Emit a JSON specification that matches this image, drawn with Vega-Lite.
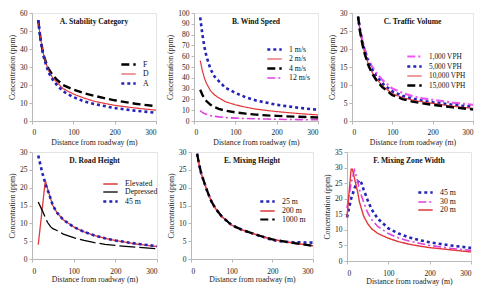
{
  "$schema": "https://vega.github.io/schema/vega-lite/v6.json",
  "padding": {"left": 8, "top": 8, "right": 2, "bottom": 0},
  "background": "white",
  "config": {
    "view": {"stroke": "#e4e4e4"},
    "font": "Liberation Serif",
    "axis": {"grid": false, "domainColor": "#b8b8b8", "tickColor": "#b8b8b8", "tickSize": 3, "labelColor": "#222", "labelFont": "Liberation Serif", "labelFontSize": 7.5, "titleFont": "Liberation Serif", "titleFontSize": 7.8, "titleFontWeight": "normal", "titleColor": "#222", "labelPadding": 2, "titlePadding": 3},
    "title": {"font": "Liberation Serif", "fontSize": 7.6, "fontWeight": "bold", "color": "#111", "offset": -17, "anchor": "middle"},
    "legend": {"title": null, "orient": "none", "symbolType": "M-2.4,0H2.4", "symbolSize": 36, "labelFont": "Liberation Serif", "labelFontSize": 7.8, "labelColor": "#111", "rowPadding": 0, "labelOffset": 10, "symbolStrokeWidth": 2}
  },
  "datasets": {
    "A": [
      {"d":15,"c":56,"s":"F"},{"d":20,"c":47,"s":"F"},{"d":25,"c":40,"s":"F"},{"d":30,"c":35,"s":"F"},{"d":40,"c":29,"s":"F"},{"d":50,"c":25.5,"s":"F"},{"d":60,"c":23,"s":"F"},{"d":75,"c":20,"s":"F"},{"d":100,"c":17.5,"s":"F"},{"d":125,"c":15.5,"s":"F"},{"d":150,"c":14,"s":"F"},{"d":175,"c":12.7,"s":"F"},{"d":200,"c":11.5,"s":"F"},{"d":250,"c":9.6,"s":"F"},{"d":300,"c":8.2,"s":"F"},
      {"d":15,"c":56,"s":"D"},{"d":20,"c":47,"s":"D"},{"d":25,"c":40,"s":"D"},{"d":30,"c":35,"s":"D"},{"d":40,"c":28,"s":"D"},{"d":50,"c":24,"s":"D"},{"d":60,"c":21.5,"s":"D"},{"d":75,"c":18,"s":"D"},{"d":100,"c":15,"s":"D"},{"d":125,"c":12.8,"s":"D"},{"d":150,"c":11,"s":"D"},{"d":175,"c":9.8,"s":"D"},{"d":200,"c":8.7,"s":"D"},{"d":250,"c":7.2,"s":"D"},{"d":300,"c":6,"s":"D"},
      {"d":15,"c":56,"s":"A"},{"d":20,"c":46,"s":"A"},{"d":25,"c":39,"s":"A"},{"d":30,"c":34,"s":"A"},{"d":40,"c":27,"s":"A"},{"d":50,"c":23,"s":"A"},{"d":60,"c":20,"s":"A"},{"d":75,"c":16.5,"s":"A"},{"d":100,"c":13.3,"s":"A"},{"d":125,"c":11,"s":"A"},{"d":150,"c":9.5,"s":"A"},{"d":175,"c":8.3,"s":"A"},{"d":200,"c":7.2,"s":"A"},{"d":250,"c":5.7,"s":"A"},{"d":300,"c":4.6,"s":"A"}
    ],
    "B": [
      {"d":15,"c":9.5,"s":"12 m/s"},{"d":20,"c":8,"s":"12 m/s"},{"d":25,"c":7,"s":"12 m/s"},{"d":30,"c":6.2,"s":"12 m/s"},{"d":40,"c":5,"s":"12 m/s"},{"d":50,"c":4.3,"s":"12 m/s"},{"d":60,"c":3.8,"s":"12 m/s"},{"d":75,"c":3.2,"s":"12 m/s"},{"d":100,"c":2.7,"s":"12 m/s"},{"d":125,"c":2.3,"s":"12 m/s"},{"d":150,"c":2,"s":"12 m/s"},{"d":175,"c":1.8,"s":"12 m/s"},{"d":200,"c":1.6,"s":"12 m/s"},{"d":250,"c":1.3,"s":"12 m/s"},{"d":300,"c":1.1,"s":"12 m/s"},
      {"d":15,"c":29,"s":"4 m/s"},{"d":20,"c":24.5,"s":"4 m/s"},{"d":25,"c":21,"s":"4 m/s"},{"d":30,"c":18.5,"s":"4 m/s"},{"d":40,"c":15,"s":"4 m/s"},{"d":50,"c":12.8,"s":"4 m/s"},{"d":60,"c":11.3,"s":"4 m/s"},{"d":75,"c":9.6,"s":"4 m/s"},{"d":100,"c":8,"s":"4 m/s"},{"d":125,"c":6.8,"s":"4 m/s"},{"d":150,"c":5.9,"s":"4 m/s"},{"d":175,"c":5.2,"s":"4 m/s"},{"d":200,"c":4.7,"s":"4 m/s"},{"d":250,"c":3.9,"s":"4 m/s"},{"d":300,"c":3.3,"s":"4 m/s"},
      {"d":15,"c":56,"s":"2 m/s"},{"d":20,"c":47,"s":"2 m/s"},{"d":25,"c":40,"s":"2 m/s"},{"d":30,"c":35,"s":"2 m/s"},{"d":40,"c":28,"s":"2 m/s"},{"d":50,"c":24,"s":"2 m/s"},{"d":60,"c":21.5,"s":"2 m/s"},{"d":75,"c":18,"s":"2 m/s"},{"d":100,"c":15,"s":"2 m/s"},{"d":125,"c":12.8,"s":"2 m/s"},{"d":150,"c":11,"s":"2 m/s"},{"d":175,"c":9.8,"s":"2 m/s"},{"d":200,"c":8.7,"s":"2 m/s"},{"d":250,"c":7,"s":"2 m/s"},{"d":300,"c":5.6,"s":"2 m/s"},
      {"d":15,"c":96,"s":"1 m/s"},{"d":20,"c":81,"s":"1 m/s"},{"d":25,"c":69,"s":"1 m/s"},{"d":30,"c":60,"s":"1 m/s"},{"d":40,"c":48,"s":"1 m/s"},{"d":50,"c":41,"s":"1 m/s"},{"d":60,"c":37,"s":"1 m/s"},{"d":75,"c":31,"s":"1 m/s"},{"d":100,"c":26,"s":"1 m/s"},{"d":125,"c":22,"s":"1 m/s"},{"d":150,"c":19,"s":"1 m/s"},{"d":175,"c":17,"s":"1 m/s"},{"d":200,"c":15,"s":"1 m/s"},{"d":250,"c":12.4,"s":"1 m/s"},{"d":300,"c":10.3,"s":"1 m/s"}
    ],
    "C": [
      {"d":15,"c":29,"s":"1,000 VPH"},{"d":20,"c":25.5,"s":"1,000 VPH"},{"d":25,"c":22.8,"s":"1,000 VPH"},{"d":30,"c":20.5,"s":"1,000 VPH"},{"d":40,"c":17.2,"s":"1,000 VPH"},{"d":50,"c":15,"s":"1,000 VPH"},{"d":60,"c":13.4,"s":"1,000 VPH"},{"d":75,"c":11.4,"s":"1,000 VPH"},{"d":100,"c":9,"s":"1,000 VPH"},{"d":125,"c":7.8,"s":"1,000 VPH"},{"d":150,"c":6.9,"s":"1,000 VPH"},{"d":175,"c":6.3,"s":"1,000 VPH"},{"d":200,"c":5.9,"s":"1,000 VPH"},{"d":250,"c":5.1,"s":"1,000 VPH"},{"d":300,"c":4.5,"s":"1,000 VPH"},
      {"d":15,"c":29,"s":"5,000 VPH"},{"d":20,"c":25.2,"s":"5,000 VPH"},{"d":25,"c":22.3,"s":"5,000 VPH"},{"d":30,"c":20,"s":"5,000 VPH"},{"d":40,"c":16.5,"s":"5,000 VPH"},{"d":50,"c":14.2,"s":"5,000 VPH"},{"d":60,"c":12.5,"s":"5,000 VPH"},{"d":75,"c":10.5,"s":"5,000 VPH"},{"d":100,"c":8.2,"s":"5,000 VPH"},{"d":125,"c":7,"s":"5,000 VPH"},{"d":150,"c":6.2,"s":"5,000 VPH"},{"d":175,"c":5.6,"s":"5,000 VPH"},{"d":200,"c":5.2,"s":"5,000 VPH"},{"d":250,"c":4.5,"s":"5,000 VPH"},{"d":300,"c":3.9,"s":"5,000 VPH"},
      {"d":15,"c":29,"s":"10,000 VPH"},{"d":20,"c":25,"s":"10,000 VPH"},{"d":25,"c":22,"s":"10,000 VPH"},{"d":30,"c":19.5,"s":"10,000 VPH"},{"d":40,"c":16,"s":"10,000 VPH"},{"d":50,"c":13.5,"s":"10,000 VPH"},{"d":60,"c":11.8,"s":"10,000 VPH"},{"d":75,"c":9.8,"s":"10,000 VPH"},{"d":100,"c":7.6,"s":"10,000 VPH"},{"d":125,"c":6.5,"s":"10,000 VPH"},{"d":150,"c":5.8,"s":"10,000 VPH"},{"d":175,"c":5.3,"s":"10,000 VPH"},{"d":200,"c":4.9,"s":"10,000 VPH"},{"d":250,"c":4.1,"s":"10,000 VPH"},{"d":300,"c":3.5,"s":"10,000 VPH"},
      {"d":15,"c":29,"s":"15,000 VPH"},{"d":20,"c":24.8,"s":"15,000 VPH"},{"d":25,"c":21.7,"s":"15,000 VPH"},{"d":30,"c":19.2,"s":"15,000 VPH"},{"d":40,"c":15.6,"s":"15,000 VPH"},{"d":50,"c":13.1,"s":"15,000 VPH"},{"d":60,"c":11.4,"s":"15,000 VPH"},{"d":75,"c":9.4,"s":"15,000 VPH"},{"d":100,"c":7.2,"s":"15,000 VPH"},{"d":125,"c":6.1,"s":"15,000 VPH"},{"d":150,"c":5.4,"s":"15,000 VPH"},{"d":175,"c":4.9,"s":"15,000 VPH"},{"d":200,"c":4.5,"s":"15,000 VPH"},{"d":250,"c":3.8,"s":"15,000 VPH"},{"d":300,"c":3.2,"s":"15,000 VPH"}
    ],
    "D": [
      {"d":15,"c":4,"s":"Elevated"},{"d":32,"c":22,"s":"Elevated"},{"d":40,"c":18.6,"s":"Elevated"},{"d":50,"c":15,"s":"Elevated"},{"d":60,"c":13,"s":"Elevated"},{"d":75,"c":11,"s":"Elevated"},{"d":100,"c":9,"s":"Elevated"},{"d":125,"c":7.6,"s":"Elevated"},{"d":150,"c":6.6,"s":"Elevated"},{"d":175,"c":5.8,"s":"Elevated"},{"d":200,"c":5.2,"s":"Elevated"},{"d":250,"c":4.2,"s":"Elevated"},{"d":300,"c":3.5,"s":"Elevated"},
      {"d":15,"c":16,"s":"Depressed"},{"d":25,"c":13.5,"s":"Depressed"},{"d":37,"c":10.3,"s":"Depressed"},{"d":45,"c":9,"s":"Depressed"},{"d":50,"c":8.5,"s":"Depressed"},{"d":60,"c":8,"s":"Depressed"},{"d":75,"c":7,"s":"Depressed"},{"d":100,"c":6,"s":"Depressed"},{"d":125,"c":5.2,"s":"Depressed"},{"d":150,"c":4.6,"s":"Depressed"},{"d":175,"c":4.1,"s":"Depressed"},{"d":200,"c":3.8,"s":"Depressed"},{"d":250,"c":3.3,"s":"Depressed"},{"d":300,"c":2.9,"s":"Depressed"},
      {"d":15,"c":29,"s":"45 m"},{"d":20,"c":26.5,"s":"45 m"},{"d":25,"c":24,"s":"45 m"},{"d":30,"c":22,"s":"45 m"},{"d":35,"c":20,"s":"45 m"},{"d":40,"c":18.6,"s":"45 m"},{"d":50,"c":15,"s":"45 m"},{"d":60,"c":13,"s":"45 m"},{"d":75,"c":11,"s":"45 m"},{"d":100,"c":9,"s":"45 m"},{"d":125,"c":7.6,"s":"45 m"},{"d":150,"c":6.6,"s":"45 m"},{"d":175,"c":5.8,"s":"45 m"},{"d":200,"c":5.2,"s":"45 m"},{"d":250,"c":4.3,"s":"45 m"},{"d":300,"c":3.6,"s":"45 m"}
    ],
    "E": [
      {"d":15,"c":29.5,"s":"25 m"},{"d":20,"c":26.5,"s":"25 m"},{"d":25,"c":24,"s":"25 m"},{"d":30,"c":22.3,"s":"25 m"},{"d":40,"c":19,"s":"25 m"},{"d":50,"c":16.2,"s":"25 m"},{"d":60,"c":14.2,"s":"25 m"},{"d":75,"c":12,"s":"25 m"},{"d":100,"c":9.5,"s":"25 m"},{"d":125,"c":8.2,"s":"25 m"},{"d":150,"c":7.2,"s":"25 m"},{"d":175,"c":6.3,"s":"25 m"},{"d":200,"c":5.3,"s":"25 m"},{"d":225,"c":4.9,"s":"25 m"},{"d":250,"c":4.7,"s":"25 m"},{"d":300,"c":4.6,"s":"25 m"},
      {"d":15,"c":29.5,"s":"200 m"},{"d":20,"c":26.5,"s":"200 m"},{"d":25,"c":24,"s":"200 m"},{"d":30,"c":22.3,"s":"200 m"},{"d":40,"c":19,"s":"200 m"},{"d":50,"c":16.2,"s":"200 m"},{"d":60,"c":14.2,"s":"200 m"},{"d":75,"c":12,"s":"200 m"},{"d":100,"c":9.5,"s":"200 m"},{"d":125,"c":8.2,"s":"200 m"},{"d":150,"c":7.2,"s":"200 m"},{"d":175,"c":6.3,"s":"200 m"},{"d":200,"c":5.5,"s":"200 m"},{"d":250,"c":4.5,"s":"200 m"},{"d":300,"c":3.7,"s":"200 m"},
      {"d":15,"c":29.5,"s":"1000 m"},{"d":20,"c":26.5,"s":"1000 m"},{"d":25,"c":24,"s":"1000 m"},{"d":30,"c":22.3,"s":"1000 m"},{"d":40,"c":19,"s":"1000 m"},{"d":50,"c":16.2,"s":"1000 m"},{"d":60,"c":14.2,"s":"1000 m"},{"d":75,"c":12,"s":"1000 m"},{"d":100,"c":9.5,"s":"1000 m"},{"d":125,"c":8.2,"s":"1000 m"},{"d":150,"c":7.2,"s":"1000 m"},{"d":175,"c":6.3,"s":"1000 m"},{"d":200,"c":5.5,"s":"1000 m"},{"d":250,"c":4.5,"s":"1000 m"},{"d":300,"c":3.7,"s":"1000 m"}
    ],
    "F": [
      {"d":0,"c":14,"s":"45 m"},{"d":5,"c":17,"s":"45 m"},{"d":10,"c":20,"s":"45 m"},{"d":15,"c":22,"s":"45 m"},{"d":20,"c":24,"s":"45 m"},{"d":30,"c":26,"s":"45 m"},{"d":35,"c":25,"s":"45 m"},{"d":40,"c":23,"s":"45 m"},{"d":50,"c":19.5,"s":"45 m"},{"d":60,"c":16.5,"s":"45 m"},{"d":75,"c":13.5,"s":"45 m"},{"d":100,"c":10.5,"s":"45 m"},{"d":125,"c":8.8,"s":"45 m"},{"d":150,"c":7.6,"s":"45 m"},{"d":175,"c":6.7,"s":"45 m"},{"d":200,"c":6,"s":"45 m"},{"d":250,"c":5,"s":"45 m"},{"d":300,"c":4.2,"s":"45 m"},
      {"d":0,"c":17,"s":"30 m"},{"d":10,"c":25,"s":"30 m"},{"d":18,"c":29.2,"s":"30 m"},{"d":20,"c":28.5,"s":"30 m"},{"d":25,"c":26,"s":"30 m"},{"d":30,"c":23,"s":"30 m"},{"d":40,"c":19,"s":"30 m"},{"d":50,"c":15.5,"s":"30 m"},{"d":60,"c":13.2,"s":"30 m"},{"d":75,"c":11,"s":"30 m"},{"d":100,"c":8.8,"s":"30 m"},{"d":125,"c":7.4,"s":"30 m"},{"d":150,"c":6.4,"s":"30 m"},{"d":175,"c":5.7,"s":"30 m"},{"d":200,"c":5,"s":"30 m"},{"d":250,"c":4.1,"s":"30 m"},{"d":300,"c":3.4,"s":"30 m"},
      {"d":0,"c":14,"s":"20 m"},{"d":5,"c":22,"s":"20 m"},{"d":10,"c":29.5,"s":"20 m"},{"d":13,"c":29.5,"s":"20 m"},{"d":20,"c":25.5,"s":"20 m"},{"d":26,"c":22,"s":"20 m"},{"d":30,"c":19,"s":"20 m"},{"d":40,"c":14.5,"s":"20 m"},{"d":50,"c":12,"s":"20 m"},{"d":60,"c":10.3,"s":"20 m"},{"d":75,"c":8.8,"s":"20 m"},{"d":100,"c":7.3,"s":"20 m"},{"d":125,"c":6.2,"s":"20 m"},{"d":150,"c":5.4,"s":"20 m"},{"d":175,"c":4.8,"s":"20 m"},{"d":200,"c":4.3,"s":"20 m"},{"d":250,"c":3.6,"s":"20 m"},{"d":300,"c":2.9,"s":"20 m"}
    ]
  },
  "vconcat": [
    {
      "spacing": 4,
      "resolve": {"scale": {"color": "independent", "strokeDash": "independent", "strokeWidth": "independent"}, "legend": {"color": "independent", "strokeDash": "independent", "strokeWidth": "independent"}},
      "hconcat": [
        {
          "width": 124, "height": 108,
          "title": {"text": "A.  Stability Category"},
          "data": {"name": "A"},
          "mark": {"type": "line"},
          "encoding": {
            "x": {"field": "d", "type": "quantitative", "scale": {"domain": [0, 300]}, "axis": {"values": [0, 100, 200, 300], "title": "Distance from roadway (m)", "labelPadding": 4}},
            "y": {"field": "c", "type": "quantitative", "scale": {"domain": [0, 60]}, "axis": {"values": [0, 10, 20, 30, 40, 50, 60], "title": "Concentration (ppm)"}},
            "color": {"field": "s", "type": "nominal", "sort": null, "scale": {"domain": ["F", "D", "A"], "range": ["#000000", "#e0383a", "#2424b8"]}, "legend": {"legendX": 92, "legendY": 47}},
            "strokeDash": {"field": "s", "type": "nominal", "sort": null, "scale": {"domain": ["F", "D", "A"], "range": [[8, 4], [1, 0], [3, 3]]}, "legend": {"legendX": 92, "legendY": 47}},
            "strokeWidth": {"field": "s", "type": "nominal", "sort": null, "scale": {"type": "ordinal", "domain": ["F", "D", "A"], "range": [2.4, 1.2, 2.6]}, "legend": {"legendX": 92, "legendY": 47}}
          }
        },
        {
          "width": 124, "height": 108,
          "title": {"text": "B. Wind Speed"},
          "data": {"name": "B"},
          "mark": {"type": "line"},
          "encoding": {
            "x": {"field": "d", "type": "quantitative", "scale": {"domain": [0, 300]}, "axis": {"values": [0, 100, 200, 300], "title": "Distance from roadway (m)", "labelPadding": 4}},
            "y": {"field": "c", "type": "quantitative", "scale": {"domain": [0, 100]}, "axis": {"values": [0, 10, 20, 30, 40, 50, 60, 70, 80, 90, 100], "title": "Concentration (ppm)"}},
            "color": {"field": "s", "type": "nominal", "sort": null, "scale": {"domain": ["1 m/s", "2 m/s", "4 m/s", "12 m/s"], "range": ["#2424b8", "#e0383a", "#000000", "#e040e0"]}, "legend": {"legendX": 76, "legendY": 32}},
            "strokeDash": {"field": "s", "type": "nominal", "sort": null, "scale": {"domain": ["1 m/s", "2 m/s", "4 m/s", "12 m/s"], "range": [[3, 3], [1, 0], [8, 4], [8, 3, 2, 3]]}, "legend": {"legendX": 76, "legendY": 32}},
            "strokeWidth": {"field": "s", "type": "nominal", "sort": null, "scale": {"type": "ordinal", "domain": ["1 m/s", "2 m/s", "4 m/s", "12 m/s"], "range": [2.6, 1.2, 2.4, 1.6]}, "legend": {"legendX": 76, "legendY": 32}}
          }
        },
        {
          "width": 121, "height": 108,
          "title": {"text": "C. Traffic Volume"},
          "data": {"name": "C"},
          "mark": {"type": "line"},
          "encoding": {
            "x": {"field": "d", "type": "quantitative", "scale": {"domain": [0, 300]}, "axis": {"values": [0, 100, 200, 300], "title": "Distance from roadway (m)", "labelPadding": 4}},
            "y": {"field": "c", "type": "quantitative", "scale": {"domain": [0, 30]}, "axis": {"values": [0, 5, 10, 15, 20, 25, 30], "title": "Concentration (ppm)"}},
            "color": {"field": "s", "type": "nominal", "sort": null, "scale": {"domain": ["1,000 VPH", "5,000 VPH", "10,000 VPH", "15,000 VPH"], "range": ["#ee55ee", "#2424b8", "#e0383a", "#000000"]}, "legend": {"legendX": 58, "legendY": 39, "labelFontSize": 7.3}},
            "strokeDash": {"field": "s", "type": "nominal", "sort": null, "scale": {"domain": ["1,000 VPH", "5,000 VPH", "10,000 VPH", "15,000 VPH"], "range": [[8, 3, 2, 3], [3, 3], [1, 0], [8, 4]]}, "legend": {"legendX": 58, "legendY": 39, "labelFontSize": 7.3}},
            "strokeWidth": {"field": "s", "type": "nominal", "sort": null, "scale": {"type": "ordinal", "domain": ["1,000 VPH", "5,000 VPH", "10,000 VPH", "15,000 VPH"], "range": [2.2, 2.6, 1.2, 2.4]}, "legend": {"legendX": 58, "legendY": 39, "labelFontSize": 7.3}}
          }
        }
      ]
    },
    {
      "spacing": 4,
      "resolve": {"scale": {"color": "independent", "strokeDash": "independent", "strokeWidth": "independent"}, "legend": {"color": "independent", "strokeDash": "independent", "strokeWidth": "independent"}},
      "hconcat": [
        {
          "width": 125, "height": 107,
          "title": {"text": "D. Road Height"},
          "data": {"name": "D"},
          "mark": {"type": "line"},
          "encoding": {
            "x": {"field": "d", "type": "quantitative", "scale": {"domain": [0, 300]}, "axis": {"values": [0, 100, 200, 300], "title": "Distance from roadway (m)", "labelPadding": 5, "titlePadding": 1}},
            "y": {"field": "c", "type": "quantitative", "scale": {"domain": [0, 30]}, "axis": {"values": [0, 5, 10, 15, 20, 25, 30], "title": "Concentration (ppm)"}},
            "color": {"field": "s", "type": "nominal", "sort": null, "scale": {"domain": ["Elevated", "Depressed", "45 m"], "range": ["#e0383a", "#000000", "#2424b8"]}, "legend": {"legendX": 74, "legendY": 28}},
            "strokeDash": {"field": "s", "type": "nominal", "sort": null, "scale": {"domain": ["Elevated", "Depressed", "45 m"], "range": [[1, 0], [16, 4], [3, 3]]}, "legend": {"legendX": 74, "legendY": 28}},
            "strokeWidth": {"field": "s", "type": "nominal", "sort": null, "scale": {"type": "ordinal", "domain": ["Elevated", "Depressed", "45 m"], "range": [1.3, 1.3, 2.6]}, "legend": {"legendX": 74, "legendY": 28}}
          }
        },
        {
          "width": 122, "height": 107,
          "title": {"text": "E. Mixing Height"},
          "data": {"name": "E"},
          "mark": {"type": "line"},
          "encoding": {
            "x": {"field": "d", "type": "quantitative", "scale": {"domain": [0, 300]}, "axis": {"values": [0, 100, 200, 300], "title": "Distance from roadway (m)", "labelPadding": 5, "titlePadding": 1}},
            "y": {"field": "c", "type": "quantitative", "scale": {"domain": [0, 30]}, "axis": {"values": [0, 5, 10, 15, 20, 25, 30], "title": "Concentration (ppm)"}},
            "color": {"field": "s", "type": "nominal", "sort": null, "scale": {"domain": ["25 m", "200 m", "1000 m"], "range": ["#2424b8", "#e0383a", "#000000"]}, "legend": {"legendX": 72, "legendY": 45}},
            "strokeDash": {"field": "s", "type": "nominal", "sort": null, "scale": {"domain": ["25 m", "200 m", "1000 m"], "range": [[3, 3], [1, 0], [8, 4]]}, "legend": {"legendX": 72, "legendY": 45}},
            "strokeWidth": {"field": "s", "type": "nominal", "sort": null, "scale": {"type": "ordinal", "domain": ["25 m", "200 m", "1000 m"], "range": [2.6, 1.6, 2.2]}, "legend": {"legendX": 72, "legendY": 45}}
          }
        },
        {
          "width": 124, "height": 109,
          "title": {"text": "F. Mixing Zone Width"},
          "data": {"name": "F"},
          "mark": {"type": "line"},
          "encoding": {
            "x": {"field": "d", "type": "quantitative", "scale": {"domain": [0, 300]}, "axis": {"values": [0, 100, 200, 300], "title": "Distance from roadway (m)", "labelPadding": 5, "titlePadding": 1}},
            "y": {"field": "c", "type": "quantitative", "scale": {"domain": [0, 35]}, "axis": {"values": [0, 5, 10, 15, 20, 25, 30, 35], "title": "Concentration (ppm)"}},
            "color": {"field": "s", "type": "nominal", "sort": null, "scale": {"domain": ["45 m", "30 m", "20 m"], "range": ["#2424b8", "#e040e0", "#e0383a"]}, "legend": {"legendX": 74, "legendY": 36}},
            "strokeDash": {"field": "s", "type": "nominal", "sort": null, "scale": {"domain": ["45 m", "30 m", "20 m"], "range": [[3, 3], [8, 3, 2, 3], [1, 0]]}, "legend": {"legendX": 74, "legendY": 36}},
            "strokeWidth": {"field": "s", "type": "nominal", "sort": null, "scale": {"type": "ordinal", "domain": ["45 m", "30 m", "20 m"], "range": [2.6, 1.6, 1.4]}, "legend": {"legendX": 74, "legendY": 36}}
          }
        }
      ]
    }
  ],
  "spacing": 0,
  "resolve": {"scale": {"color": "independent", "strokeDash": "independent", "strokeWidth": "independent"}, "legend": {"color": "independent", "strokeDash": "independent", "strokeWidth": "independent"}}
}
